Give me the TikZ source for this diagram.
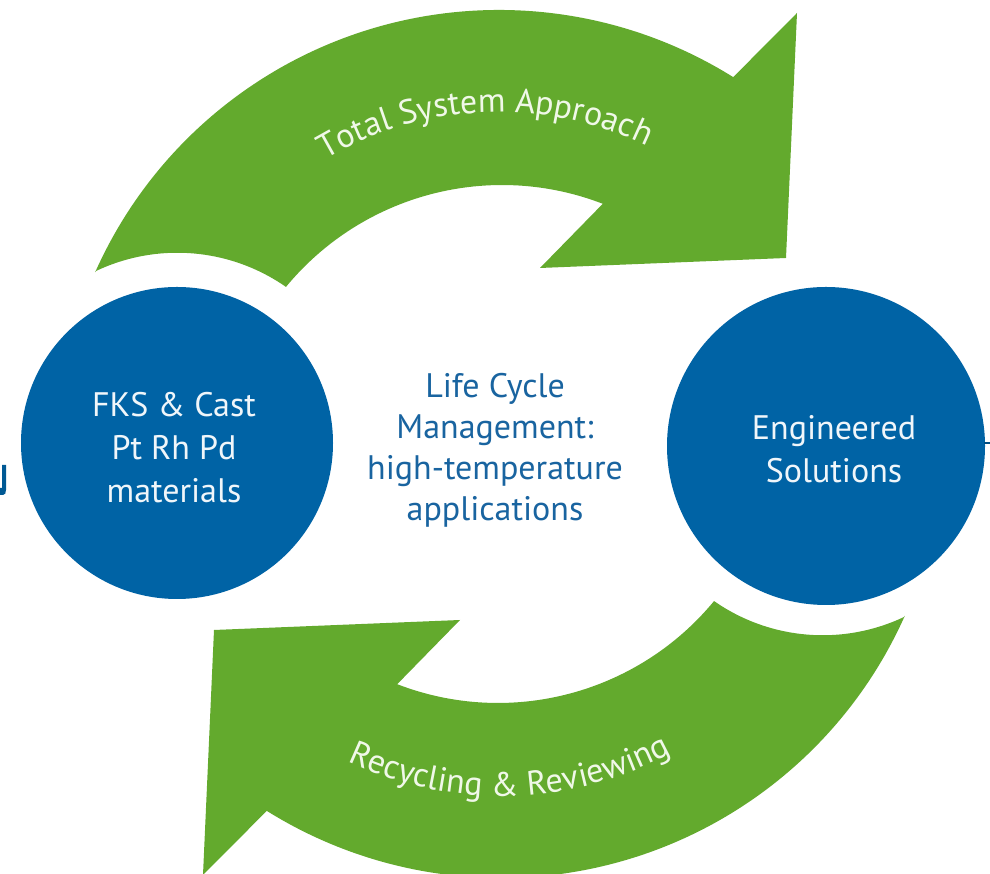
\documentclass[tikz,border=0pt]{standalone}
\usepackage{fontspec}
\setmainfont{PT Sans}
\usetikzlibrary{decorations.text}

\definecolor{leafgreen}{RGB}{99,170,45}
\definecolor{discblue}{RGB}{0,99,165}
\definecolor{captionblue}{RGB}{25,100,160}
\definecolor{paletext}{RGB}{240,248,232}

\begin{document}
\begin{tikzpicture}[x=1pt,y=1pt,
  disc/.style={circle, fill=discblue, minimum size=#1, inner sep=0pt},
  disctext/.style={text=white!94!discblue, align=center,
    font=\fontsize{34}{43}\selectfont},
  centertext/.style={text=captionblue, align=center,
    font=\fontsize{34}{41}\selectfont},
  band/.style={fill=leafgreen}]
\useasboundingbox (0,0) rectangle (990,874);
\fill[white] (0,0) rectangle (990,874);

% upper curved arrow: outer arc, arrowhead, inner arc, concave tail
\fill[band] (95.2,601.8) arc[start angle=156, end angle=58, radius=442]
  -- (797,861) -- (786,616) -- (540,606) -- (602.8,670.2)
  arc[start angle=68.9, end angle=140.5, radius=280]
  arc[start angle=55.1, end angle=115.6, radius=190] -- cycle;

% lower curved arrow: the same band turned half a turn
\begin{scope}[rotate around={180:(500,430)}]
\fill[band] (95.2,601.8) arc[start angle=156, end angle=58, radius=442]
  -- (797,861) -- (786,616) -- (540,606) -- (602.8,670.2)
  arc[start angle=68.9, end angle=140.5, radius=280]
  arc[start angle=55.1, end angle=115.6, radius=190] -- cycle;
\end{scope}

% captions running along the arrows
\path[decorate, decoration={text along path, text align=center,
    text color=paletext,
    text={|\fontsize{34}{40}\selectfont|Total System Approach}}]
  (304.0,700.5) arc[start angle=125, end angle=60, radius=340];
\path[decorate, decoration={text along path, text align=center,
    text color=paletext,
    text={|\fontsize{34}{40}\selectfont|Recycling {\&} Reviewing}}]
  (321.0,126.2) arc[start angle=240, end angle=303, radius=360];

% the two discs
\node[disc=312] (fks) at (177,431) {};
\node[disc=318] (eng) at (826,428) {};
\node[disctext] (fkslabel) at (174,426) {FKS \& Cast\\Pt Rh Pd\\materials};
\node[disctext] (englabel) at (834,425) {Engineered\\Solutions};

% central caption
\node[centertext] (lcm) at (495,424)
  {Life Cycle\\Management:\\high-temperature\\applications};

% small fragments at the edges
\fill[discblue!90!black] (0,379) -- (3,379) .. controls (5,379) and (6,381) .. (6,384)
  -- (6,409) -- (2,409) -- (2,386) -- (0,386) -- cycle;
\draw[discblue!80!black, line width=1.2] (984,431) -- (990,431);
\end{tikzpicture}
\end{document}
